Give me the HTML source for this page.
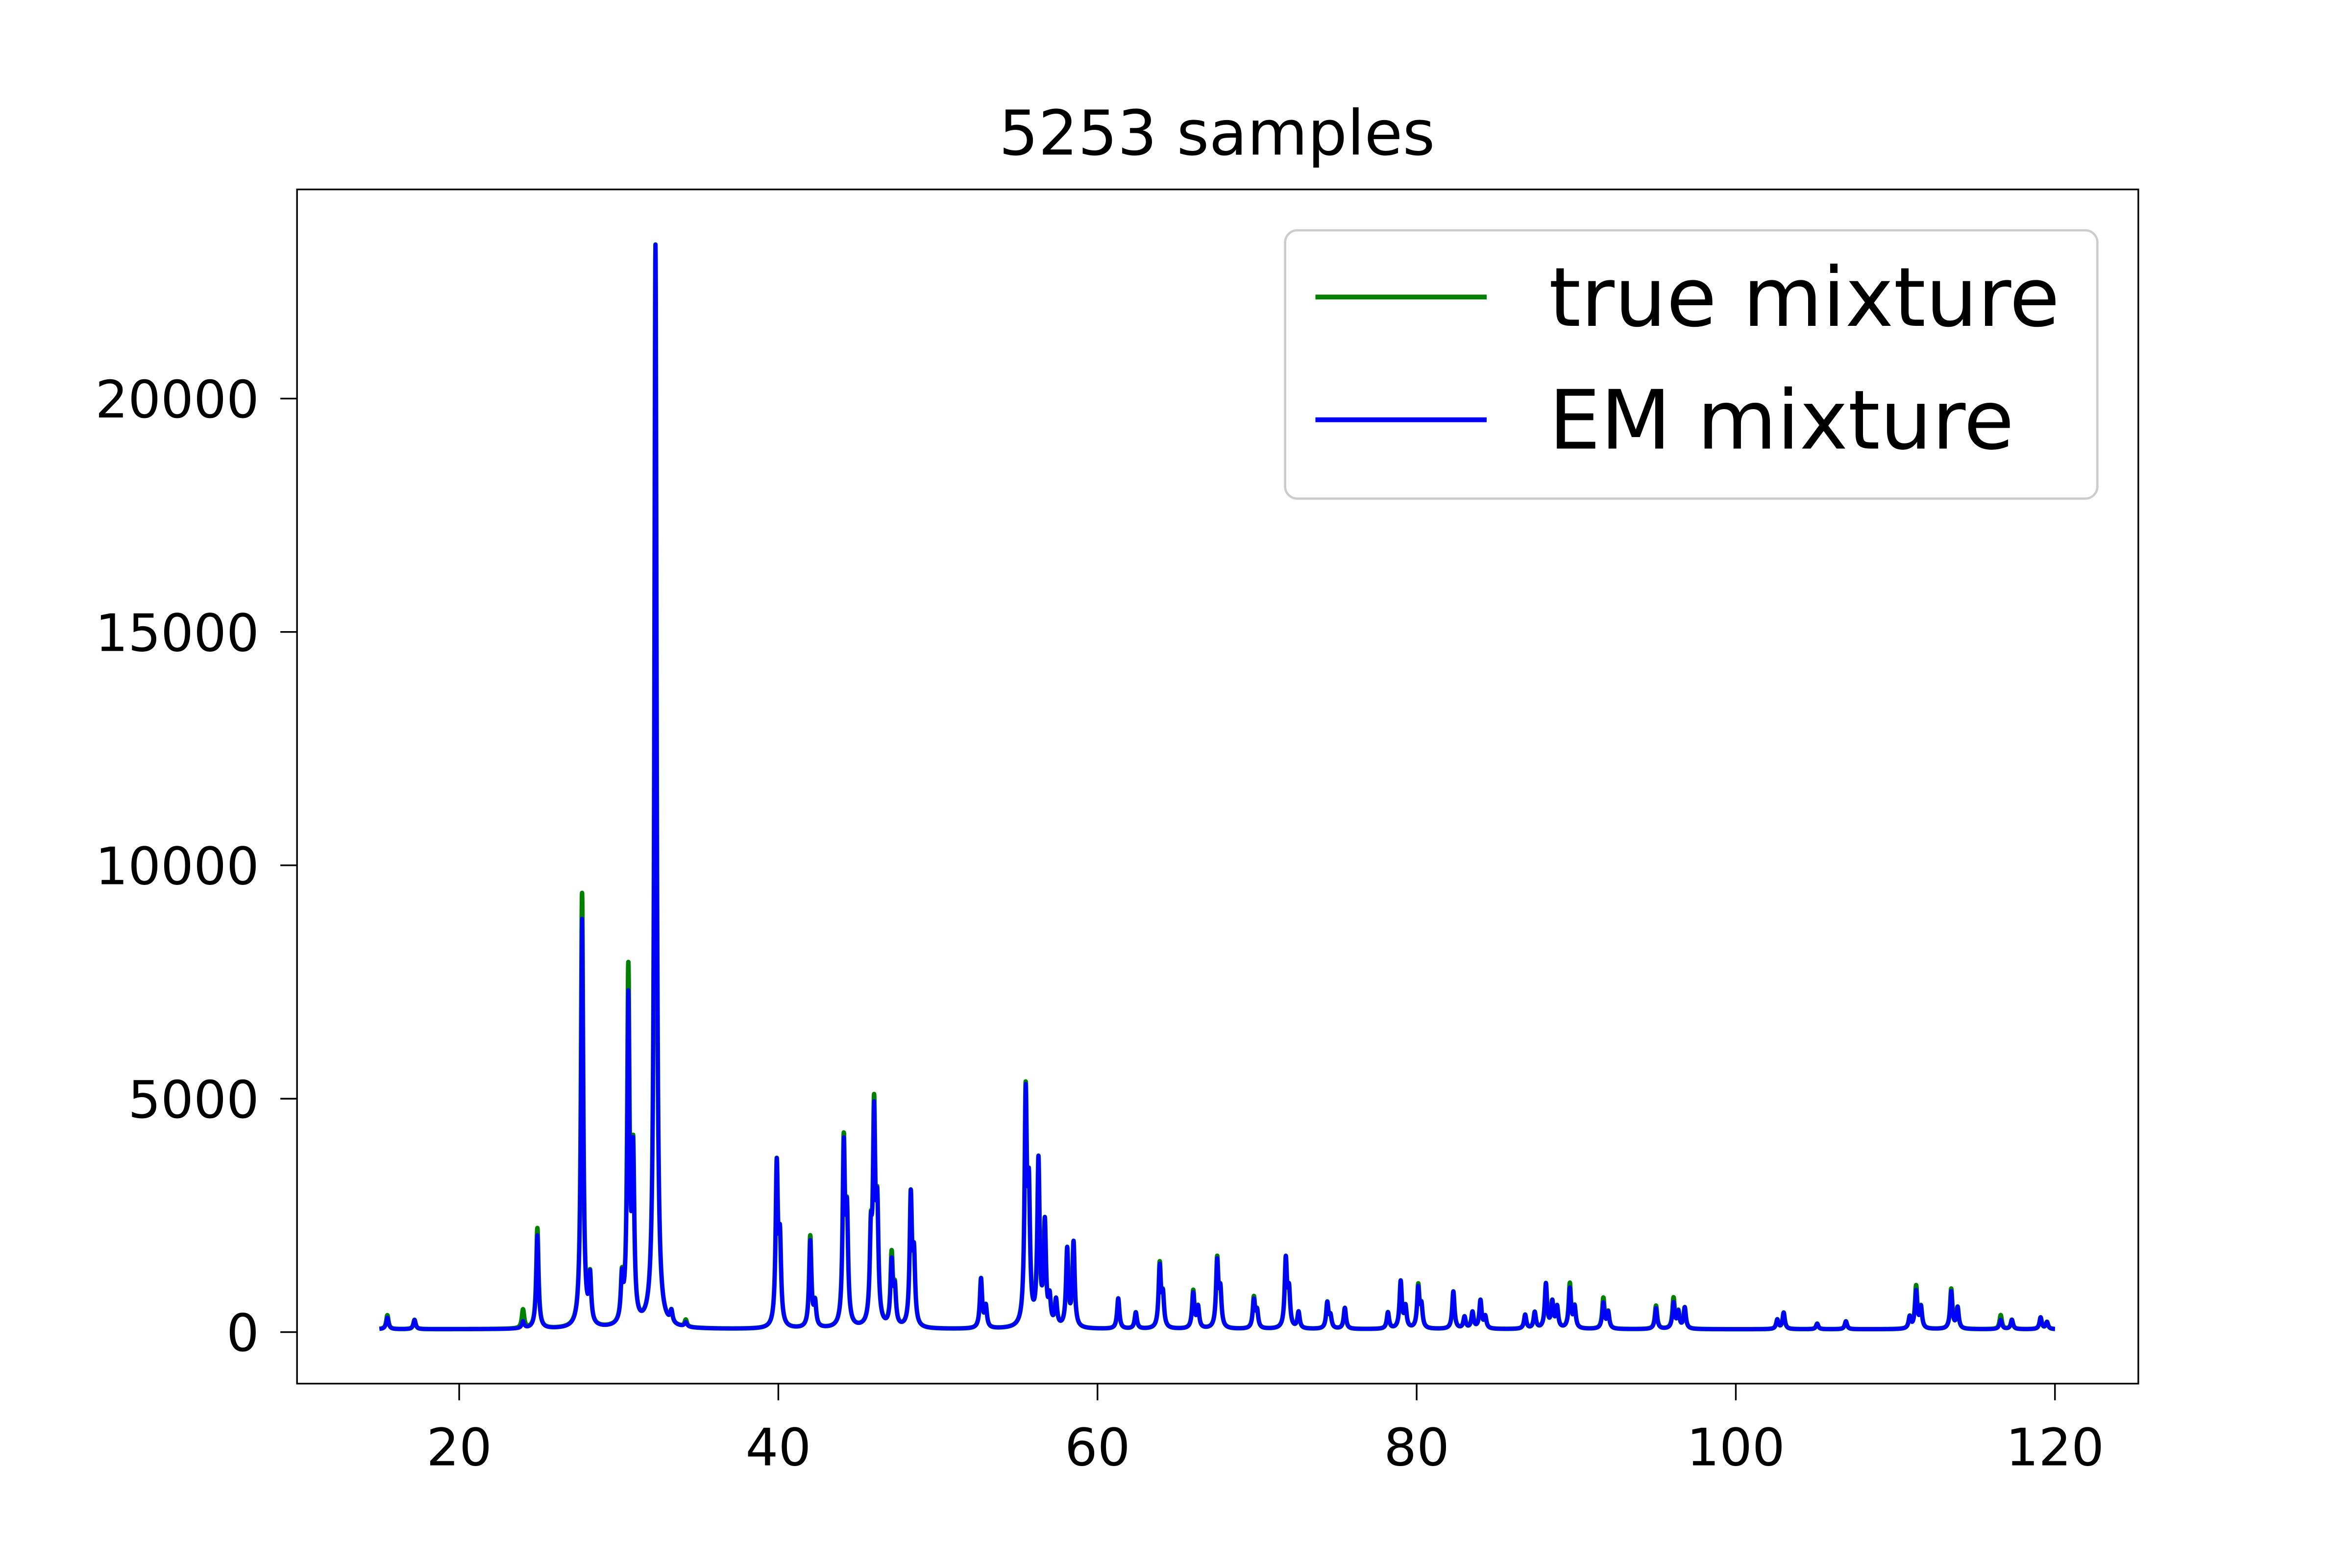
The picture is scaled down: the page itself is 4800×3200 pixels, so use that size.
<!DOCTYPE html>
<html><head><meta charset="utf-8"><style>html,body{margin:0;padding:0;background:#fff}svg{display:block}</style></head>
<body>
<svg id="chart" width="4800" height="3200" viewBox="0 0 1552 1034.67" xmlns="http://www.w3.org/2000/svg" font-family="DejaVu Sans, Liberation Sans, sans-serif">
<rect width="1552" height="1034.67" fill="#fff"/>
<text x="803" y="102" font-size="41" text-anchor="middle">5253 samples</text>
<g id="plot"></g>
<rect x="196" y="125" width="1215" height="788" fill="none" stroke="#000" stroke-width="1.1"/>
<g id="xticks"></g>
<g id="yticks"></g>
<g>
<rect x="848" y="152" width="536" height="177" rx="8" fill="#fff" fill-opacity="0.8" stroke="#cccccc" stroke-width="1.5"/>
<line x1="868" y1="196" x2="981" y2="196" stroke="#008000" stroke-width="3.2"/>
<text x="1022" y="215" font-size="54">true mixture</text>
<line x1="868" y1="277" x2="981" y2="277" stroke="#0000ff" stroke-width="3.2"/>
<text x="1022" y="296" font-size="54">EM mixture</text>
</g>
</svg>
<script>
const peakPos = [15.5,17.2,24.0,24.9,27.7,28.2,30.2,30.6,30.9,32.3,33.3,34.2,39.9,40.1,42.0,42.3,44.1,44.3,45.8,46.0,46.2,47.1,47.3,48.3,48.5,52.7,53.0,55.5,55.7,56.3,56.7,57.0,57.4,58.1,58.5,61.3,62.4,63.9,64.1,66.0,66.3,67.5,67.7,69.8,70.0,71.8,72.0,72.6,74.4,74.6,75.5,78.2,79.0,79.3,80.1,80.3,82.3,83.0,83.5,84.0,84.3,86.8,87.4,88.1,88.5,88.8,89.6,89.9,91.7,92.0,95.0,96.1,96.4,96.8,102.6,103.0,105.1,106.9,110.9,111.3,111.6,113.5,113.9,116.6,117.3,119.1,119.5];
const trueHeights = [300,200,400,2150,9300,1000,900,7500,3500,23200,250,150,3400,1700,1950,500,3850,2200,1700,4400,2250,1500,750,2750,1400,1050,450,4850,2600,3500,2150,550,550,1650,1800,650,350,1350,650,800,450,1450,750,650,350,1450,750,350,550,250,450,350,1000,450,900,450,800,250,350,600,250,300,350,950,550,450,950,450,650,350,500,650,350,450,200,350,120,170,250,900,450,850,450,300,200,250,150];
const emHeights = [250,200,150,2000,8750,1000,900,6900,3500,23200,250,100,3400,1700,1850,500,3750,2200,1700,4250,2250,1350,750,2750,1400,1050,450,4800,2600,3500,2150,550,550,1650,1800,650,350,1300,650,750,450,1400,750,600,350,1450,750,350,550,250,450,350,1000,450,850,450,800,250,350,600,250,300,350,950,550,450,850,450,550,350,450,550,350,450,200,350,120,170,250,800,450,800,450,200,200,250,150];
const xTicks = [20,40,60,80,100,120];
const yTicks = [0,5000,10000,15000,20000];
const xRange = [15,120];
const baseline = 60;

const NS = 'http://www.w3.org/2000/svg';
const xs = v => 303 + (v - 20) * 10.53;
const ys = v => 879 - v * 0.0308;
const gamma = 0.085;

function curve(heights){
  let pts = [];
  for (let x = xRange[0]; x <= xRange[1] + 1e-9; x += 0.01) {
    let y = baseline;
    for (let i = 0; i < peakPos.length; i++) {
      const d = x - peakPos[i];
      y += heights[i] * gamma * gamma / (d * d + gamma * gamma);
    }
    pts.push(xs(x).toFixed(2) + ',' + ys(y).toFixed(2));
  }
  return pts.join(' ');
}
const plot = document.getElementById('plot');
const g1 = document.createElementNS(NS, 'polyline');


g1.setAttribute('points', curve(trueHeights));
g1.setAttribute('fill', 'none'); g1.setAttribute('stroke', '#008000'); g1.setAttribute('stroke-width', '3'); g1.setAttribute('stroke-linejoin', 'round');
plot.appendChild(g1);
const g2 = document.createElementNS(NS, 'polyline');


g2.setAttribute('points', curve(emHeights));
g2.setAttribute('fill', 'none'); g2.setAttribute('stroke', '#0000ff'); g2.setAttribute('stroke-width', '2.6'); g2.setAttribute('stroke-linejoin', 'round');
plot.appendChild(g2);

const xg = document.getElementById('xticks');
xTicks.forEach(t => {
  const l = document.createElementNS(NS, 'line');
  
  
  l.setAttribute('x1', xs(t)); l.setAttribute('x2', xs(t)); l.setAttribute('y1', 913); l.setAttribute('y2', 924);
  l.setAttribute('stroke', '#000'); l.setAttribute('stroke-width', '1.1');
  xg.appendChild(l);
  const tx = document.createElementNS(NS, 'text');
  
  
  tx.setAttribute('x', xs(t)); tx.setAttribute('y', 967); tx.setAttribute('font-size', '34'); tx.setAttribute('text-anchor', 'middle');
  tx.textContent = t;
  xg.appendChild(tx);
});
const yg = document.getElementById('yticks');
yTicks.forEach(t => {
  const l = document.createElementNS(NS, 'line');
  
  
  l.setAttribute('x1', 185); l.setAttribute('x2', 196); l.setAttribute('y1', ys(t)); l.setAttribute('y2', ys(t));
  l.setAttribute('stroke', '#000'); l.setAttribute('stroke-width', '1.1');
  yg.appendChild(l);
  const tx = document.createElementNS(NS, 'text');
  
  
  tx.setAttribute('x', 171); tx.setAttribute('y', ys(t) + 12.5); tx.setAttribute('font-size', '34'); tx.setAttribute('text-anchor', 'end');
  tx.textContent = t;
  yg.appendChild(tx);
});
</script>
</body></html>
